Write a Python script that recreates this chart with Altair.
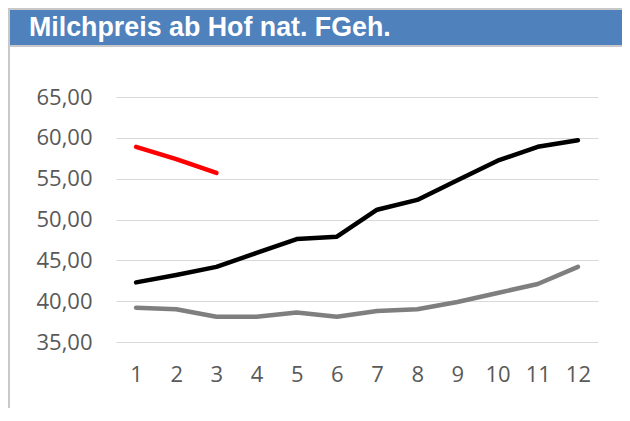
import altair as alt
import pandas as pd

# ---- data ----
months = list(range(1, 13))
preis_2021 = [39.2, 39.0, 38.1, 38.1, 38.6, 38.1, 38.8, 39.0, 39.9, 41.0, 42.1, 44.2]
preis_2022 = [42.3, 43.2, 44.2, 45.9, 47.6, 47.9, 51.2, 52.4, 54.8, 57.2, 58.9, 59.7]
preis_2023 = [58.9, 57.4, 55.7]
series_names = ["2021", "2022", "2023"]
series_colors = ["#7F7F7F", "#000000", "#FF0000"]
y_ticks = [35, 40, 45, 50, 55, 60, 65]
title_text = "Milchpreis ab Hof nat. FGeh."

rows = []
for name, vals in zip(series_names, [preis_2021, preis_2022, preis_2023]):
    for m, v in zip(months, vals):
        rows.append({"Monat": m, "Preis": v, "Jahr": name})
df = pd.DataFrame(rows)

W, H = 482, 245
PAD_L, PAD_T, PAD_R, PAD_B = 108, 89, 24, 66
TOTAL_W = W + PAD_L + PAD_R
TOTAL_H = H + PAD_T + PAD_B

one = alt.Data(values=[{}])

# frame: gray top/left border, blue title band, gray separator
border_top = alt.Chart(one).mark_rect(color="#C8C8C8").encode(
    x=alt.value(-PAD_L), x2=alt.value(TOTAL_W - PAD_L),
    y=alt.value(-PAD_T), y2=alt.value(-PAD_T + 2))
border_left = alt.Chart(one).mark_rect(color="#C8C8C8").encode(
    x=alt.value(-PAD_L), x2=alt.value(-PAD_L + 2),
    y=alt.value(-PAD_T), y2=alt.value(TOTAL_H - PAD_T))
band = alt.Chart(one).mark_rect(color="#4F81BD").encode(
    x=alt.value(-PAD_L + 2), x2=alt.value(TOTAL_W - PAD_L),
    y=alt.value(-PAD_T + 2), y2=alt.value(-52))
sep = alt.Chart(one).mark_rect(color="#C8C8C8").encode(
    x=alt.value(-PAD_L + 2), x2=alt.value(TOTAL_W - PAD_L),
    y=alt.value(-52), y2=alt.value(-50))
title = alt.Chart(one).mark_text(
    text=title_text, font="Liberation Sans", fontSize=26.8, fontWeight="bold",
    color="white", align="left", baseline="alphabetic").encode(
    x=alt.value(-87), y=alt.value(-61))

lines = alt.Chart(df).mark_line(strokeWidth=4.5, strokeCap="round", strokeJoin="round").encode(
    x=alt.X("Monat:O", sort=months,
            scale=alt.Scale(type="point", padding=0.5),
            axis=alt.Axis(title=None, labelAngle=0, domain=False, ticks=False, grid=False,
                          labelFont="Open Sans", labelFontSize=22, labelColor="#595959",
                          labelPadding=22)),
    y=alt.Y("Preis:Q", scale=alt.Scale(domain=[35, 65], nice=False, zero=False),
            axis=alt.Axis(title=None, values=y_ticks, domain=False, ticks=False,
                          grid=True, gridColor="#D9D9D9", gridWidth=1,
                          labelExpr="replace(format(datum.value, '.2f'), '.', ',')",
                          labelFont="Open Sans", labelFontSize=22, labelColor="#595959",
                          labelPadding=24)),
    color=alt.Color("Jahr:N", scale=alt.Scale(domain=series_names, range=series_colors),
                    legend=None),
    order=alt.Order("Monat:Q"),
)

chart = alt.layer(border_top, border_left, band, sep, lines, title).properties(
    width=W, height=H,
    autosize=alt.AutoSizeParams(type="none"),
    padding={"left": PAD_L, "top": PAD_T, "right": PAD_R, "bottom": PAD_B},
    background="white",
).configure_view(stroke=None)

chart.save("out.html", embed_options={"renderer": "svg", "actions": False})
